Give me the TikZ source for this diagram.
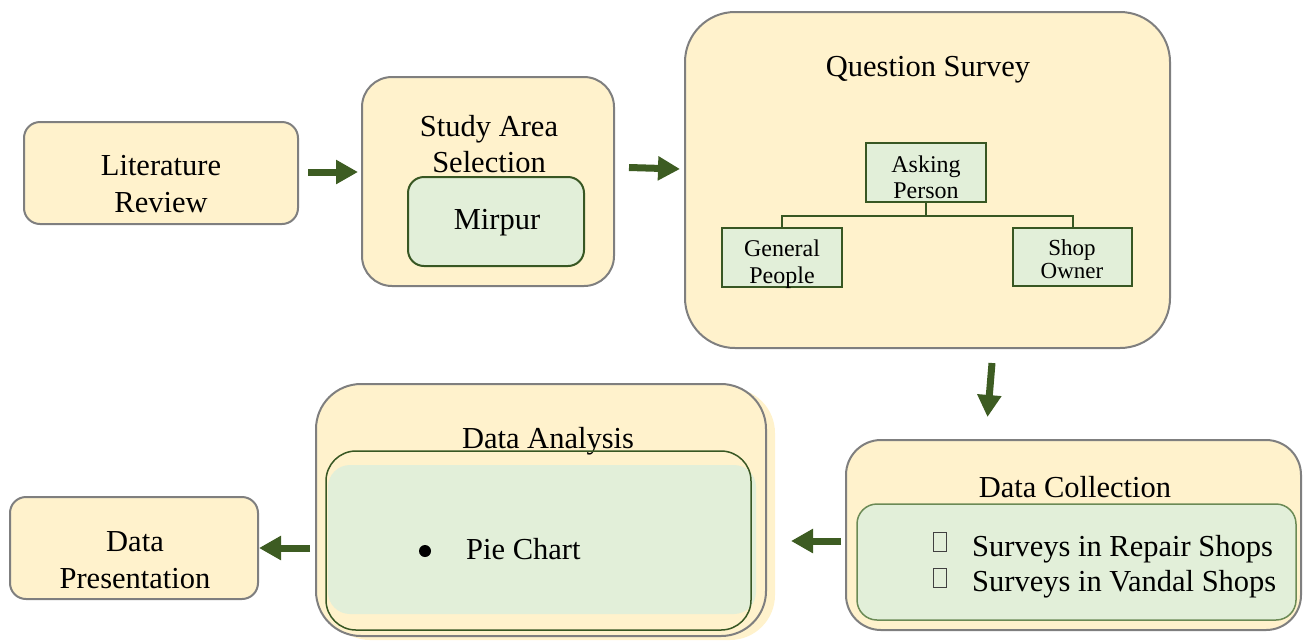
\documentclass[tikz,border=0pt]{standalone}
\usepackage{fontspec}
\setmainfont{Liberation Serif}
\usetikzlibrary{arrows.meta,calc}
\definecolor{cream}{HTML}{FFF2CC}
\definecolor{lgreen}{HTML}{E2EFD9}
\definecolor{dgreen}{HTML}{385723}
\definecolor{mgreen}{HTML}{6B8A55}
\definecolor{bgray}{HTML}{7F7F7F}
\definecolor{arrgreen}{HTML}{3D5C22}
\begin{document}
\begin{tikzpicture}[x=1pt,y=-1pt,
  outerbox/.style={draw=bgray, line width=2pt, fill=cream, rounded corners=#1, inner sep=0pt},
  outerbox/.default=16pt,
  greenbox/.style={draw=dgreen, line width=2pt, fill=lgreen, rounded corners=#1, inner sep=0pt},
  greenbox/.default=16pt,
  treebox/.style={draw=dgreen, line width=2pt, fill=lgreen, inner sep=0pt},
  big/.style={font=\fontsize{30.5}{37}\selectfont, inner sep=0pt, anchor=base},
  small/.style={font=\fontsize{24}{27}\selectfont, inner sep=0pt, anchor=base},
  tree/.style={draw=dgreen, line width=2pt},
  arr/.style={draw=arrgreen, line width=7pt, -{Triangle[length=22pt,width=23pt]}},
  chk/.style={draw=black!75, line width=0.7pt, minimum width=13pt, minimum height=19pt, inner sep=0pt}
]
\useasboundingbox (0,0) rectangle (1308,641);

% Literature Review
\node[outerbox, minimum width=274pt, minimum height=102pt] (lit) at (161,173) {};
\node[big] (litA) at (161,175) {Literature};
\node[big] (litB) at (161,212) {Review};

% Study Area Selection
\node[outerbox=30pt, minimum width=252pt, minimum height=209pt] (study) at (488,181.5) {};
\node[big] (studyA) at (489,136) {Study Area};
\node[big] (studyB) at (489,172) {Selection};
\node[greenbox=16pt, minimum width=176pt, minimum height=89pt] (mir) at (496,221.5) {};
\node[big] (mirT) at (497,229) {Mirpur};

% Question Survey
\node[outerbox=50pt, minimum width=485pt, minimum height=336pt] (qs) at (927.5,180) {};
\node[big] (qsT) at (928,76) {Question Survey};
\node[treebox, minimum width=120pt, minimum height=59pt] (ask) at (926,172.5) {};
\node[small] (askA) at (926,172) {Asking};
\node[small] (askB) at (926,198) {Person};
\node[treebox, minimum width=120pt, minimum height=59pt] (gen) at (782,257.5) {};
\node[small] (genA) at (782,256) {General};
\node[small] (genB) at (782,283) {People};
\node[treebox, minimum width=119pt, minimum height=58pt] (shop) at (1072.5,257) {};
\node[small, font=\fontsize{23}{26}\selectfont] (shopA) at (1072,255) {Shop};
\node[small, font=\fontsize{23}{26}\selectfont] (shopB) at (1072,278) {Owner};
\draw[tree] (ask.south) -- ++(0,13) -| (gen.north);
\draw[tree] (ask.south) -- ++(0,13) -| (shop.north);

% Data Collection
\node[outerbox=35pt, minimum width=455pt, minimum height=190pt] (dc) at (1073.5,535) {};
\node[big] (dcT) at (1075,497) {Data Collection};
\node[draw=mgreen, line width=1.5pt, fill=lgreen, rounded corners=20pt, minimum width=439pt, minimum height=116pt, inner sep=0pt] (dcin) at (1076.5,562) {};
\node[chk] (c1) at (939.5,542) {};
\node[chk] (c2) at (939.5,578) {};
\node[big, anchor=base west] (dc1) at (972,556) {Surveys in Repair Shops};
\node[big, anchor=base west] (dc2) at (972,591) {Surveys in Vandal Shops};

% Data Analysis
\node[fill=cream, rounded corners=45pt, minimum width=450pt, minimum height=252pt, inner sep=0pt] (dash) at (550,514) {};
\node[outerbox=45pt, minimum width=450pt, minimum height=252pt] (da) at (541,510) {};
\node[big] (daT) at (548,448) {Data Analysis};
\node[fill=lgreen, rounded corners=22pt, minimum width=428pt, minimum height=149pt, inner sep=0pt] (dafill) at (542,539.5) {};
\node[draw=dgreen, line width=1.5pt, rounded corners=30pt, minimum width=425pt, minimum height=179pt, inner sep=0pt] (dain) at (538.5,540.5) {};
\node[circle, fill=black, minimum size=12pt, inner sep=0pt] (dot) at (425,551) {};
\node[big, anchor=base west] (pie) at (466,559) {Pie Chart};

% Data Presentation
\node[outerbox, minimum width=248pt, minimum height=102pt] (dp) at (134,548) {};
\node[big] (dpA) at (135,551) {Data};
\node[big] (dpB) at (135,588) {Presentation};

% arrows
\draw[arr] ($(lit.east)+(9,-1)$) -- ($(study.west)+(-3,-9.5)$);
\draw[arr] ($(study.east)+(14,-14)$) -- ($(qs.west)+(-4,-11)$);
\draw[arr] ($(qs.south)+(64.5,14)$) -- ($(dc.north)+(-86,-22)$);
\draw[arr] ($(dc.west)+(-4,6)$) -- ($(da.east)+(24,31)$);
\draw[arr] ($(da.west)+(-5,38)$) -- (dp.east);
\end{tikzpicture}
\end{document}
